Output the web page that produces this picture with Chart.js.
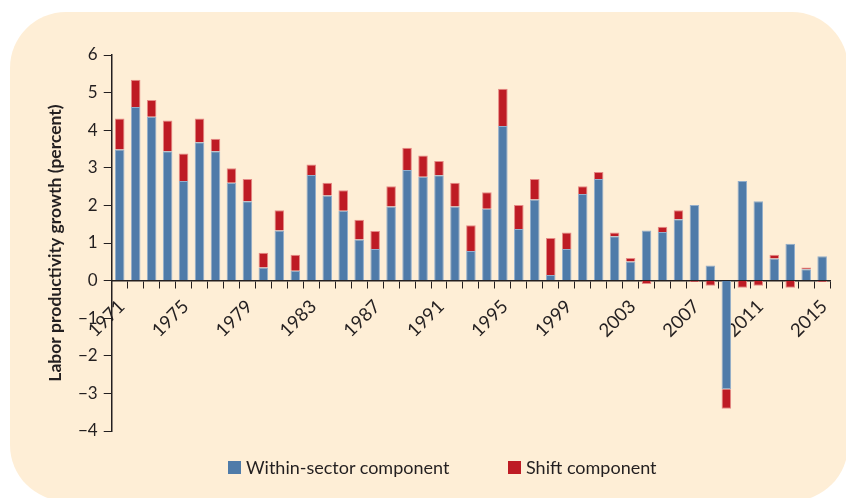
<!DOCTYPE html>
<html>
<head>
<meta charset="utf-8">
<script src="https://cdn.jsdelivr.net/npm/chart.js@4/dist/chart.umd.min.js"></script>
<style>
  html, body { margin: 0; padding: 0; background: #fff; overflow: hidden; }
  #wrap { position: relative; width: 846px; height: 498px; }
  #panel { position: absolute; left: 10px; top: 12px; width: 838px; height: 489px;
           background: #feeed6; border-radius: 56px; }
  #c { position: absolute; left: 0; top: 0; }
  .leg { position: absolute; top: 456px; font: 18px Lato, sans-serif; color: #231f20;
         display: flex; align-items: center; white-space: nowrap; }
  .leg i { display: inline-block; width: 13px; height: 13px; margin-right: 5px; }
</style>
</head>
<body>
<div id="wrap">
  <div id="panel"></div>
  <canvas id="c" width="846" height="498"></canvas>
  <div id="legend"></div>
</div>
<script>
const years = ['1971','1972','1973','1974','1975','1976','1977','1978','1979','1980',
  '1981','1982','1983','1984','1985','1986','1987','1988','1989','1990',
  '1991','1992','1993','1994','1995','1996','1997','1998','1999','2000',
  '2001','2002','2003','2004','2005','2006','2007','2008','2009','2010',
  '2011','2012','2013','2014','2015'];

// within-sector component (percent)
const within = [3.49, 4.62, 4.36, 3.44, 2.65, 3.68, 3.44, 2.60, 2.11, 0.35,
  1.33, 0.26, 2.81, 2.26, 1.86, 1.09, 0.84, 1.97, 2.94, 2.76,
  2.80, 1.97, 0.79, 1.91, 4.11, 1.37, 2.16, 0.15, 0.84, 2.30,
  2.70, 1.18, 0.51, 1.33, 1.29, 1.63, 2.01, 0.40, -2.89, 2.65,
  2.11, 0.59, 0.98, 0.30, 0.65];

// shift component (percent)
const shift = [0.82, 0.72, 0.44, 0.82, 0.73, 0.63, 0.33, 0.39, 0.59, 0.39,
  0.54, 0.43, 0.28, 0.34, 0.54, 0.53, 0.48, 0.54, 0.59, 0.57,
  0.38, 0.63, 0.68, 0.44, 0.99, 0.64, 0.54, 0.98, 0.44, 0.21,
  0.19, 0.10, 0.09, -0.09, 0.14, 0.24, -0.04, -0.14, -0.52, -0.19,
  -0.14, 0.10, -0.19, 0.05, -0.04];

const yTicks = [-4, -3, -2, -1, 0, 1, 2, 3, 4, 5, 6];

const ink = '#231f20';
const font = 'Lato';

const chart = new Chart('c', {
  type: 'bar',
  data: {
    labels: years,
    datasets: [
      { label: 'Within-sector component', data: within, backgroundColor: '#4f7ba9',
        borderColor: '#93aecb', borderWidth: 1 },
      { label: 'Shift component', data: shift, backgroundColor: '#be1b24',
        borderColor: '#e58a86', borderWidth: 1 }
    ]
  },
  options: {
    responsive: false,
    animation: false,
    layout: { padding: { left: 45, right: 14, top: 55, bottom: 67 } },
    categoryPercentage: 1,
    barPercentage: 0.6,
    plugins: { legend: { display: false }, tooltip: { enabled: false } },
    scales: {
      x: {
        stacked: true,
        position: { y: 0 },
        grid: { drawOnChartArea: false, tickLength: 7, color: ink, tickColor: ink, offset: true },
        border: { color: ink, width: 1.5 },
        ticks: {
          autoSkip: false, maxRotation: 45, minRotation: 45, padding: 8, labelOffset: 2,
          color: ink, font: { family: font, size: 18.5 },
          callback: (v, i) => (i % 4 === 0 ? years[i] : '')
        }
      },
      y: {
        stacked: true,
        min: yTicks[0], max: yTicks[yTicks.length - 1],
        afterBuildTicks: s => { s.ticks = yTicks.map(v => ({ value: v })); },
        grid: { drawOnChartArea: false, tickLength: 8, color: ink, tickColor: ink },
        border: { color: ink, width: 1.5 },
        ticks: {
          padding: 6, color: ink, font: { family: font, size: 17 },
          callback: v => (v < 0 ? '\u2212' + Math.abs(v) : String(v))
        },
        title: {
          display: true, text: 'Labor productivity growth (percent)', color: ink,
          font: { family: font, size: 17.5, weight: 'bold' }, padding: { top: 0, bottom: 6 }
        }
      }
    }
  }
});

// legend built from the datasets
const legendPos = [228, 508];
chart.data.datasets.forEach((ds, i) => {
  const d = document.createElement('div');
  d.className = 'leg';
  d.style.left = legendPos[i] + 'px';
  d.innerHTML = '<i style="background:' + ds.backgroundColor + '"></i>' + ds.label;
  document.getElementById('legend').appendChild(d);
});
</script>
</body>
</html>
